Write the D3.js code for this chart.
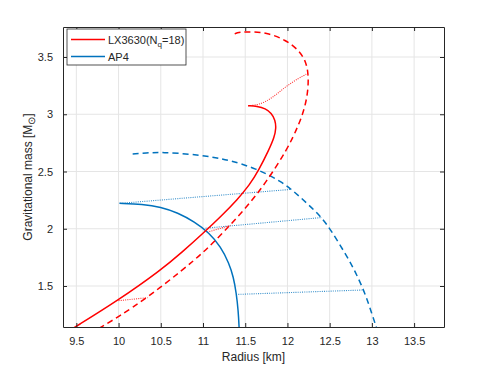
<!DOCTYPE html>
<html>
<head>
<meta charset="utf-8">
<script src="https://cdn.jsdelivr.net/npm/d3@7"></script>
<style>
  body { margin: 0; background: #fff; }
  svg { display: block; }
  text { font-family: "Liberation Sans", Arial, sans-serif; fill: #262626; }
</style>
</head>
<body>
<svg id="chart" width="491" height="368"></svg>
<script>
// radius [km], mass [Msun]
const lxSolid = [[9.46,1.13],[9.99,1.372],[10.502,1.639],[10.757,1.799],[10.993,1.955],[11.229,2.12],
  [11.40,2.25],[11.55,2.38],[11.662,2.514],[11.78,2.688],[11.845,2.80],[11.866,2.88],[11.855,2.95],
  [11.81,3.01],[11.74,3.05],[11.64,3.07],[11.535,3.075]];
const lxDash = [[9.767,1.13],[9.99,1.226],[10.344,1.40],[10.757,1.639],[11.013,1.799],[11.249,1.974],
  [11.505,2.178],[11.74,2.397],[11.995,2.688],[12.133,2.906],[12.204,3.052],[12.243,3.198],[12.25,3.344],
  [12.22,3.46],[12.133,3.562],[11.976,3.649],[11.78,3.708],[11.58,3.722],[11.427,3.717],[11.367,3.701]];
const lxDotted = [
  [[10.0,1.372],[10.344,1.398]],
  [[11.05,1.97],[11.33,2.03]],
  [[11.535,3.075],[11.663,3.081],[11.818,3.14],[11.976,3.241],[12.133,3.315],[12.243,3.358]]
];
const apSolid = [[10.01,2.222],[10.285,2.214],[10.5,2.19],[10.7,2.14],[10.9,2.06],[11.072,1.965],
  [11.21,1.843],[11.308,1.70],[11.36,1.58],[11.394,1.44],[11.418,1.28],[11.428,1.13]];
const apDash = [[10.167,2.653],[10.365,2.664],[10.521,2.668],[10.836,2.653],[11.1,2.628],[11.308,2.6],
  [11.623,2.528],[11.936,2.411],[12.1,2.31],[12.25,2.21],[12.408,2.098],[12.526,1.975],[12.684,1.785],
  [12.802,1.629],[12.92,1.436],[12.998,1.261],[13.057,1.13]];
const apDotted = [
  [[10.02,2.222],[12.047,2.344]],
  [[11.03,2.005],[12.408,2.098]],
  [[11.418,1.427],[12.89,1.465]]
];
const xTicks = [9.5, 10, 10.5, 11, 11.5, 12, 12.5, 13, 13.5];
const yTicks = [1.5, 2, 2.5, 3, 3.5];
const xDomain = [9.342, 13.854];
const yDomain = [1.142, 3.762];

const RED = "#ff0000";
const BLUE = "#0072bd";
const AXIS = "#262626";

const margin = { left: 63, top: 27, right: 47, bottom: 41 };
const svg = d3.select("#chart");
const width = 491 - margin.left - margin.right;
const height = 368 - margin.top - margin.bottom;

const x = d3.scaleLinear().domain(xDomain).range([0, width]);
const y = d3.scaleLinear().domain(yDomain).range([height, 0]);

const g = svg.append("g").attr("transform", `translate(${margin.left},${margin.top})`);

g.append("defs").append("clipPath").attr("id", "plot")
    .append("rect").attr("width", width).attr("height", height);

// grid
g.append("g").selectAll("line").data(xTicks).enter().append("line")
    .attr("x1", d => x(d)).attr("x2", d => x(d)).attr("y1", 0).attr("y2", height)
    .attr("stroke", "#e5e5e5").attr("stroke-width", 1);
g.append("g").selectAll("line").data(yTicks).enter().append("line")
    .attr("y1", d => y(d)).attr("y2", d => y(d)).attr("x1", 0).attr("x2", width)
    .attr("stroke", "#e5e5e5").attr("stroke-width", 1);

const line = d3.line().x(d => x(d[0])).y(d => y(d[1])).curve(d3.curveBasis);
const curves = g.append("g").attr("clip-path", "url(#plot)");

function draw(data, color, style) {
  const p = curves.append("path").datum(data)
      .attr("d", line).attr("fill", "none").attr("stroke", color);
  if (style === "dash") p.attr("stroke-width", 1.5).attr("stroke-dasharray", "6,4");
  else if (style === "dot") p.attr("stroke-width", 1.1).attr("stroke-dasharray", "1,1.2").attr("stroke-opacity", 0.8);
  else p.attr("stroke-width", 1.5);
}

apDotted.forEach(d => draw(d, BLUE, "dot"));
lxDotted.forEach(d => draw(d, RED, "dot"));
draw(apDash, BLUE, "dash");
draw(apSolid, BLUE, "solid");
draw(lxDash, RED, "dash");
draw(lxSolid, RED, "solid");

// axes with ticks inside, box on
const xAxis = g.append("g").attr("transform", `translate(0,${height})`)
    .call(d3.axisBottom(x).tickValues(xTicks).tickSizeInner(-4).tickSizeOuter(0).tickPadding(10).tickFormat(d3.format("")));
const xTop = g.append("g")
    .call(d3.axisTop(x).tickValues(xTicks).tickSizeInner(-4).tickSizeOuter(0).tickFormat(""));
const yAxis = g.append("g")
    .call(d3.axisLeft(y).tickValues(yTicks).tickSizeInner(-4).tickSizeOuter(0).tickPadding(10).tickFormat(d3.format("")));
const yRight = g.append("g").attr("transform", `translate(${width},0)`)
    .call(d3.axisRight(y).tickValues(yTicks).tickSizeInner(-4).tickSizeOuter(0).tickFormat(""));

[xAxis, xTop, yAxis, yRight].forEach(a => {
  a.select(".domain").attr("stroke", AXIS).attr("stroke-width", 1);
  a.selectAll(".tick line").attr("stroke", AXIS);
  a.selectAll(".tick text").attr("fill", AXIS).style("font-size", "11px")
      .style("font-family", "'Liberation Sans', Arial, sans-serif");
});

// axis labels
svg.append("text")
    .attr("x", margin.left + width / 2).attr("y", 361)
    .attr("text-anchor", "middle").style("font-size", "12px")
    .text("Radius [km]");

const yl = svg.append("text")
    .attr("transform", `translate(32,${margin.top + height / 2}) rotate(-90)`)
    .attr("text-anchor", "middle").style("font-size", "12px");
yl.append("tspan").text("Gravitational mass [M");
yl.append("tspan").attr("dy", 3).style("font-size", "10px").text("\u2299");
yl.append("tspan").attr("dy", -3).text("]");

// legend
const leg = svg.append("g").attr("transform", "translate(67,29)");
leg.append("rect").attr("width", 119).attr("height", 36)
    .attr("fill", "#fff").attr("stroke", AXIS).attr("stroke-width", 0.8);
const entries = [
  { color: RED, y: 10.5 },
  { color: BLUE, y: 27.5 }
];
entries.forEach(e => {
  leg.append("line").attr("x1", 4).attr("x2", 38).attr("y1", e.y).attr("y2", e.y)
      .attr("stroke", e.color).attr("stroke-width", 1.5);
});
const t1 = leg.append("text").attr("x", 41).attr("y", 14.5).style("font-size", "11px");
t1.append("tspan").text("LX3630(N");
t1.append("tspan").attr("dy", 3).style("font-size", "8px").text("q");
t1.append("tspan").attr("dy", -3).text("=18)");
leg.append("text").attr("x", 41).attr("y", 31.5).style("font-size", "11px").text("AP4");
</script>
</body>
</html>
